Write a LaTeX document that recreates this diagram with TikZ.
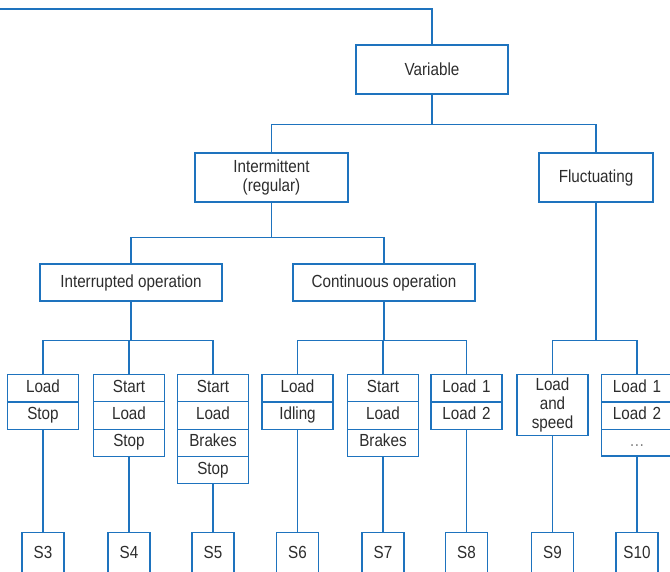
\documentclass[tikz,border=0pt]{standalone}
\usepackage{fontspec}
\setmainfont{Liberation Sans}[FakeStretch=0.87]
\usetikzlibrary{shapes}
\definecolor{lineblue}{RGB}{30,115,190}
\definecolor{textgray}{RGB}{45,45,45}

% one row of a stacked box, fixed height
\newcommand{\row}[1]{\rule[-4.5pt]{0pt}{16.2pt}#1}

\begin{document}
\begin{tikzpicture}[x=1pt, y=-1pt,
    every node/.style={font=\fontsize{17.5}{19}\selectfont, text=textgray},
    box/.style={draw=lineblue, line width=1.3pt, fill=white, align=center},
    stack/.style={box, rectangle split, rectangle split parts=#1, inner xsep=0pt, inner ysep=4.5pt, text width=71pt},
    sbox/.style={box, anchor=north, minimum width=42pt, minimum height=40pt, inner sep=0pt},
    link/.style={draw=lineblue, line width=1.3pt}]
    \clip (0,0) rectangle (670,571);

    % Top levels
    \node[box, minimum width=152pt, minimum height=49pt] (var) at (432,69.5) {Variable};
    \node[box, minimum width=153pt, minimum height=49pt] (inter) at (271.5,177.5) {Intermittent\\(regular)};
    \node[box, minimum width=114pt, minimum height=49pt] (fluc) at (596,177.5) {Fluctuating};
    \node[box, minimum width=182pt, minimum height=37pt] (interr) at (131,282.5) {Interrupted operation};
    \node[box, minimum width=182pt, minimum height=37pt] (cont) at (384,282.5) {Continuous operation};

    % Duty cycles
    \node[stack=2, anchor=north] (a) at (43,374) {\row{Load}\nodepart{two}\row{Stop}};
    \node[stack=3, anchor=north] (b) at (129,374) {\row{Start}\nodepart{two}\row{Load}\nodepart{three}\row{Stop}};
    \node[stack=4, anchor=north] (c) at (213,374) {\row{Start}\nodepart{two}\row{Load}\nodepart{three}\row{Brakes}\nodepart{four}\row{Stop}};
    \node[stack=2, anchor=north] (d) at (297.5,374) {\row{Load}\nodepart{two}\row{Idling}};
    \node[stack=3, anchor=north] (e) at (383,374) {\row{Start}\nodepart{two}\row{Load}\nodepart{three}\row{Brakes}};
    \node[stack=2, anchor=north] (f) at (466.5,374) {\row{Load 1}\nodepart{two}\row{Load 2}};
    \node[box, anchor=north, text width=71pt, minimum height=60pt, inner xsep=0pt] (g) at (552.5,374) {Load\\and\\speed};
    \node[stack=3, anchor=north] (h) at (637,374) {\row{Load 1}\nodepart{two}\row{Load 2}\nodepart{three}\row{\textcolor{gray}{\ldots}}};

    % Duty types
    \node[sbox] (s3) at (43,532) {S3};
    \node[sbox] (s4) at (129,532) {S4};
    \node[sbox] (s5) at (213,532) {S5};
    \node[sbox] (s6) at (297.5,532) {S6};
    \node[sbox] (s7) at (383,532) {S7};
    \node[sbox] (s8) at (466.5,532) {S8};
    \node[sbox] (s9) at (552.5,532) {S9};
    \node[sbox] (s10) at (637,532) {S10};

    % Connectors
    \coordinate (in) at (-5,9);
    \draw[link] (in) -| (var.north);
    \draw[link] (var.south) -- ++(0,30) -| (inter.north);
    \draw[link] (var.south) -- ++(0,30) -| (fluc.north);
    \draw[link] (inter.south) -- ++(0,35) -| (interr.north);
    \draw[link] (inter.south) -- ++(0,35) -| (cont.north);
    \draw[link] (interr.south) -- ++(0,39) -| (a.north);
    \draw[link] (interr.south) -- ++(0,39) -| (b.north);
    \draw[link] (interr.south) -- ++(0,39) -| (c.north);
    \draw[link] (cont.south) -- ++(0,39) -| (d.north);
    \draw[link] (cont.south) -- ++(0,39) -| (e.north);
    \draw[link] (cont.south) -- ++(0,39) -| (f.north);
    \draw[link] (fluc.south) -- ++(0,138) -| (g.north);
    \draw[link] (fluc.south) -- ++(0,138) -| (h.north);
    \draw[link] (a.south) -- (s3.north);
    \draw[link] (b.south) -- (s4.north);
    \draw[link] (c.south) -- (s5.north);
    \draw[link] (d.south) -- (s6.north);
    \draw[link] (e.south) -- (s7.north);
    \draw[link] (f.south) -- (s8.north);
    \draw[link] (g.south) -- (s9.north);
    \draw[link] (h.south) -- (s10.north);
\end{tikzpicture}
\end{document}
